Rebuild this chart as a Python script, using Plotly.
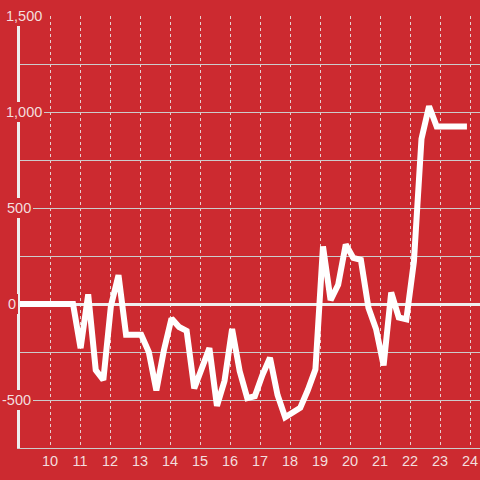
import plotly.graph_objects as go

# time of day (hours) of each sample
hours = [9.000, 9.253, 9.505, 9.758, 10.010, 10.263, 10.515, 10.768, 11.020, 11.273,
         11.525, 11.778, 12.030, 12.283, 12.535, 12.788, 13.040, 13.293, 13.545, 13.798,
         14.050, 14.303, 14.555, 14.808, 15.060, 15.313, 15.565, 15.818, 16.070, 16.323,
         16.575, 16.828, 17.080, 17.333, 17.585, 17.838, 18.090, 18.343, 18.595, 18.848,
         19.100, 19.353, 19.605, 19.858, 20.110, 20.363, 20.615, 20.868, 21.120, 21.373,
         21.625, 21.878, 22.130, 22.383, 22.635, 22.888, 23.140, 23.393, 23.645, 23.898]
values = [0, 0, 0, 0, 0, 0, 0, 0,
          -230, 50, -344, -396, -10, 150, -160, -160, -160, -250, -450, -240,
          -75, -120, -140, -440, -333, -230, -530, -400, -130, -350,
          -490, -480, -370, -280, -474, -590, -565, -540, -448, -340,
          300, 20, 100, 310, 240, 230, -20, -130, -320, 60,
          -70, -80, 220, 860, 1030, 925, 925, 925, 925, 925]
x_ticks = list(range(10, 25))
y_label_vals = [1500, 1000, 500, 0, -500]
y_label_text = ["1,500", "1,000", "500", "0", "-500"]

BG = "#cc2a30"
TXT = "#f3dede"
FONT = "Liberation Sans, Arial"

fig = go.Figure()
fig.add_trace(go.Scatter(x=hours, y=values, mode="lines",
                         line=dict(color="white", width=6), hoverinfo="skip"))

W, H = 480, 480
ml, mr, mt, mb = 20, 0, 16, 32
pw = W - ml - mr

# left pixel edge of each y label box (style, not data)
label_left_px = [4, 4, 5, 6, 0]

annotations = []
for v, t, lx in zip(y_label_vals, y_label_text, label_left_px):
    annotations.append(dict(
        xref="paper", yref="y", x=(lx - ml) / pw, y=v, xanchor="left", yanchor="middle",
        text=t, showarrow=False, bgcolor=BG, borderpad=2, borderwidth=0,
        font=dict(family=FONT, size=14.5, color=TXT)))

fig.update_layout(
    width=W, height=H,
    margin=dict(l=ml, r=mr, t=mt, b=mb),
    paper_bgcolor=BG, plot_bgcolor=BG,
    showlegend=False,
    annotations=annotations,
    xaxis=dict(range=[9, 9 + pw / 30], tickvals=x_ticks,
               showgrid=True, gridcolor="#e6d0d0", gridwidth=1, griddash="dot",
               zeroline=False, showline=True, linecolor="#cccccc", linewidth=1,
               ticks="",
               tickfont=dict(family=FONT, size=14.5, color=TXT)),
    yaxis=dict(range=[-750, 1500], dtick=250, showticklabels=False,
               showgrid=True, gridcolor="#cccccc", gridwidth=1,
               zeroline=True, zerolinecolor="#eeeeee", zerolinewidth=3,
               showline=True, linecolor="#eeeeee", linewidth=3, ticks=""),
)

fig.write_html("out.html", config={"displayModeBar": False},
               post_script="document.body.style.margin='0';document.body.style.overflow='hidden';")
